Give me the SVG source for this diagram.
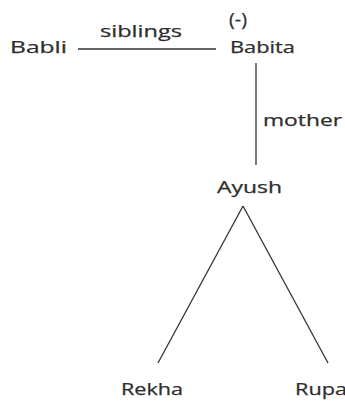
<svg xmlns="http://www.w3.org/2000/svg" width="345" height="403" viewBox="0 0 345 403">
<style>
text{font-family:"Open Sans","Noto Sans",sans-serif;font-size:16px;fill:#2e2e2e;stroke:#2e2e2e;stroke-width:0.25}
.c line{stroke:#333;stroke-width:1.3;fill:none}
</style>
<rect width="345" height="403" fill="#fff"/>
<g class="c" id="connectors">
<line x1="78" y1="49" x2="216" y2="49"/>
<line x1="256" y1="63" x2="256" y2="165"/>
<line x1="243" y1="206" x2="158" y2="363"/>
<line x1="243" y1="206" x2="328" y2="363"/>
</g>
<g id="labels">
<text x="100" y="37" textLength="82" lengthAdjust="spacingAndGlyphs">siblings</text>
<text x="263" y="126" textLength="79" lengthAdjust="spacingAndGlyphs">mother</text>
</g>
<g id="babli"><text x="10" y="53" textLength="57" lengthAdjust="spacingAndGlyphs">Babli</text></g>
<g id="babita">
<text x="229" y="26" textLength="18" lengthAdjust="spacingAndGlyphs" style="font-size:17.5px">(-)</text>
<text x="230" y="53" textLength="65" lengthAdjust="spacingAndGlyphs">Babita</text>
</g>
<g id="ayush"><text x="217" y="193" textLength="65" lengthAdjust="spacingAndGlyphs">Ayush</text></g>
<g id="rekha"><text x="121" y="395" textLength="62" lengthAdjust="spacingAndGlyphs">Rekha</text></g>
<g id="rupa"><text x="295" y="395" textLength="52" lengthAdjust="spacingAndGlyphs">Rupa</text></g>
</svg>
